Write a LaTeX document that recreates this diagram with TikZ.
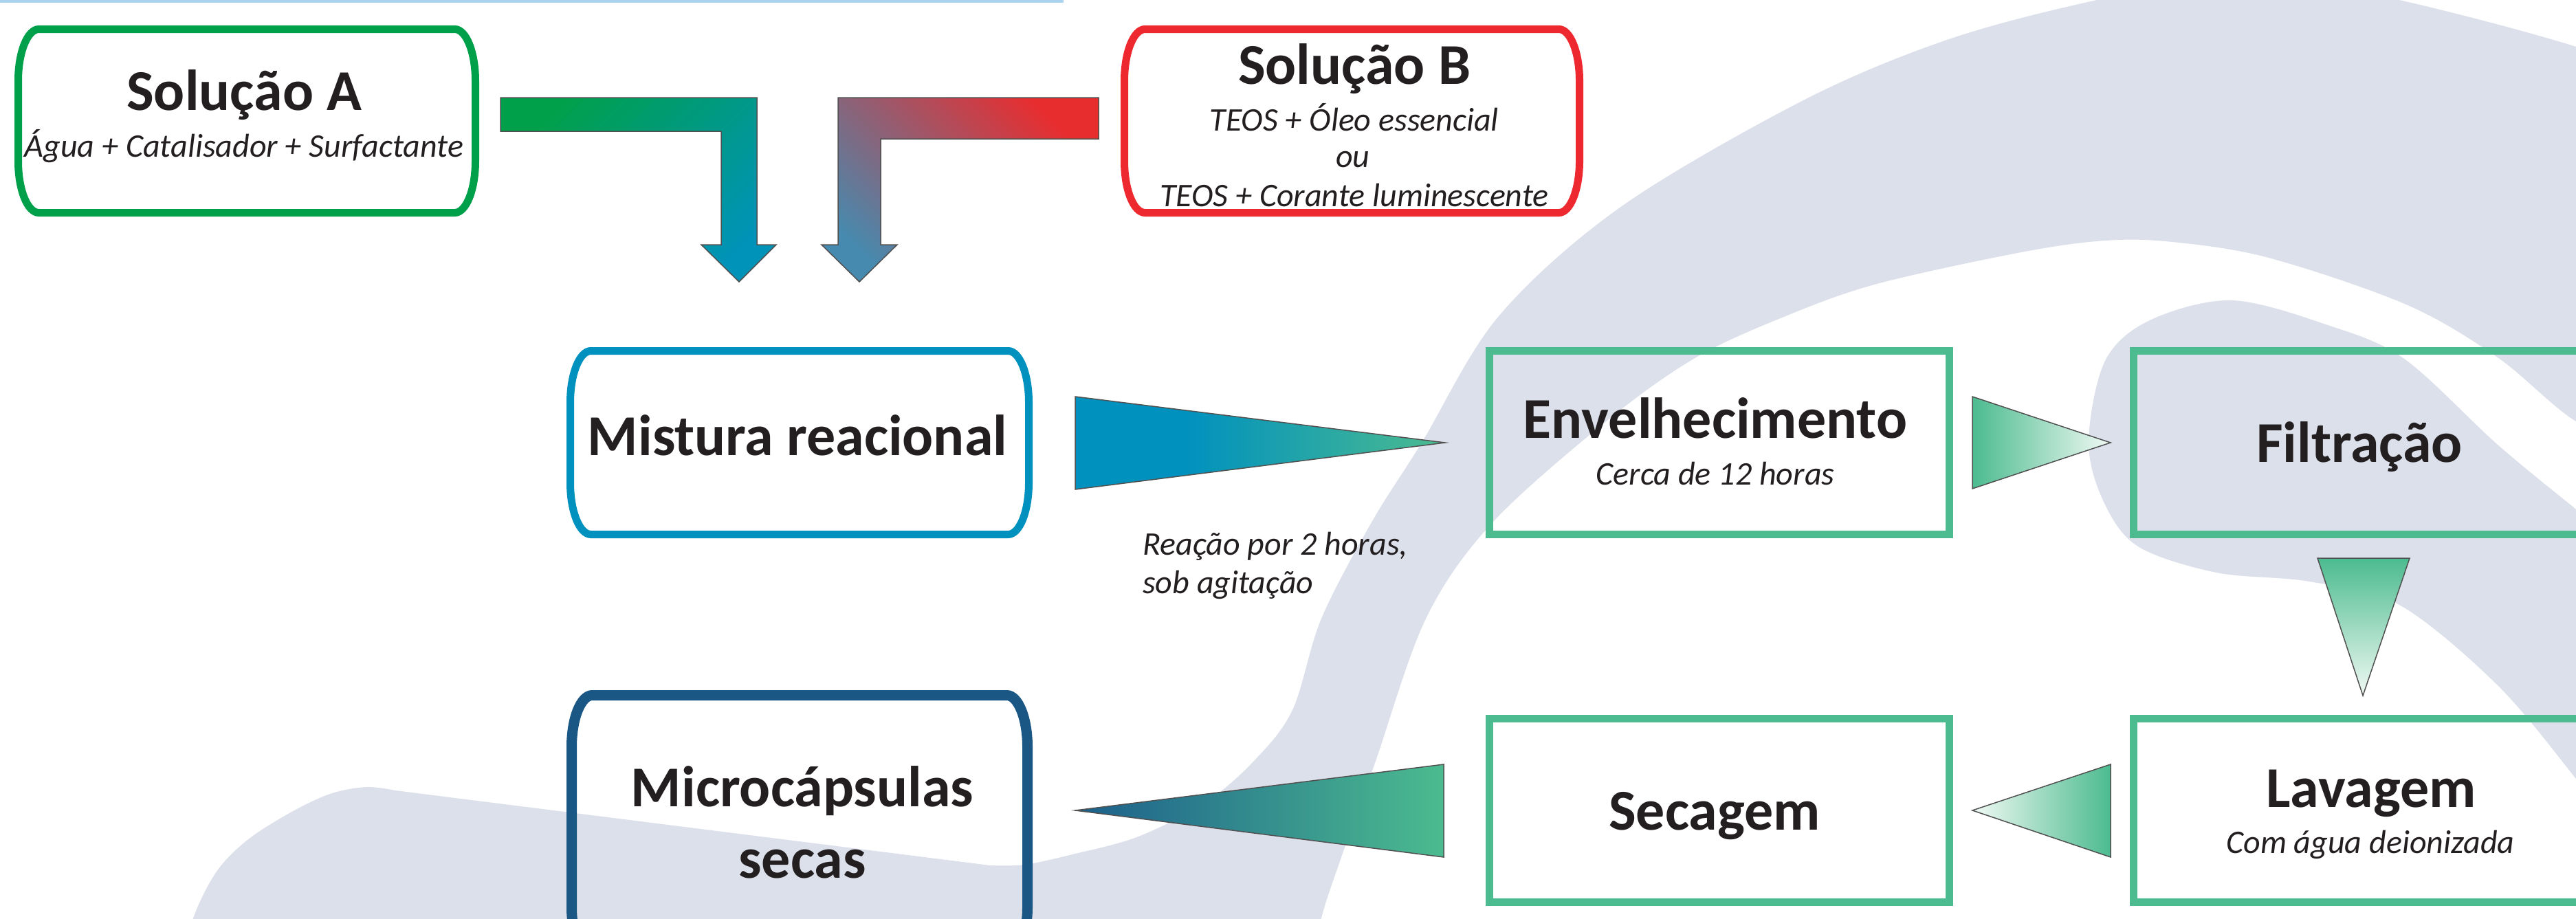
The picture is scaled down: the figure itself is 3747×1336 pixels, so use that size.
\documentclass[tikz,border=0pt]{standalone}
\usepackage{fontspec}
\setmainfont{Carlito}
\usetikzlibrary{calc}
\definecolor{bggray}{RGB}{220,224,235}
\definecolor{txt}{RGB}{35,31,32}
\definecolor{cA}{RGB}{0,160,75}
\definecolor{cB}{RGB}{237,41,47}
\definecolor{cM}{RGB}{0,145,190}
\definecolor{cD}{RGB}{26,87,132}
\definecolor{cDt}{RGB}{28,95,140}
\definecolor{cG}{RGB}{76,187,143}
\definecolor{cPale}{RGB}{240,249,244}
\definecolor{cTeal}{RGB}{0,147,185}
\definecolor{cRed}{RGB}{232,45,47}
\definecolor{cBG}{RGB}{70,138,175}
\definecolor{cLine}{RGB}{169,211,239}
\definecolor{edge}{RGB}{80,80,80}
\pgfdeclarehorizontalshading{btog}{100bp}{color(0bp)=(cM); color(40bp)=(cM); color(75bp)=(cG); color(100bp)=(cG)}
\newcommand\rndbox[5]{%
 \draw[draw=#2, line width=#3pt]
  ($(#1.north west)+(#4,0)$) -- ($(#1.north east)+(-#4,0)$)
  arc[start angle=-90, end angle=0, x radius=#4, y radius=#5]
  -- ($(#1.south east)+(0,-#5)$)
  arc[start angle=0, end angle=90, x radius=#4, y radius=#5]
  -- ($(#1.south west)+(#4,0)$)
  arc[start angle=90, end angle=180, x radius=#4, y radius=#5]
  -- ($(#1.north west)+(0,#5)$)
  arc[start angle=180, end angle=270, x radius=#4, y radius=#5]
  -- cycle;}
\begin{document}
\begin{tikzpicture}[x=1pt,y=-1pt,
  title/.style={font=\fontsize{84}{100}\selectfont\bfseries, text=txt, anchor=base, inner sep=0pt},
  sub/.style={font=\fontsize{48}{58}\selectfont\itshape, text=txt, anchor=base, inner sep=0pt},
  slot/.style={rectangle, inner sep=0pt, outer sep=0pt, draw=none},
  sqbox/.style={rectangle, inner sep=0pt, outer sep=0pt, draw=cG, line width=11pt, minimum width=669pt, minimum height=267pt},
  tri/.style={draw=edge, line width=1.5pt},
  larrow/.style={draw=edge, line width=1.5pt}]
\useasboundingbox (0,0) rectangle (3747,1336);
\clip (0,0) rectangle (3747,1336);
\fill[white] (0,0) rectangle (3747,1336);
% background swoosh
\fill[bggray] plot[smooth, tension=0.55] coordinates {(270,1400) (281,1336) (315,1268) (360,1222) (421,1183) (480,1155) (533,1145) (575,1150)}
  -- (1400,1254)
  -- plot[smooth, tension=0.55] coordinates {(1440,1259) (1490,1258) (1560,1243) (1656,1217) (1754,1167) (1824,1107) (1880,1033) (1922,900) (1995,760) (2068,644) (2180,460) (2359,300) (2625,145) (2835,57) (3050,0) (3270,-40) (3490,0) (3747,68) (3900,130)}
  -- (3900,660)
  -- plot[smooth, tension=0.55] coordinates {(3850,650) (3747,613) (3633,520) (3500,443) (3300,375) (3160,352) (3062,350) (2940,367) (2730,413) (2597,460) (2467,520) (2340,610) (2171,760) (2074,900) (2000,1110) (1950,1250) (1922,1336) (1915,1400)}
  -- cycle;
\fill[bggray] plot[smooth, tension=0.55] coordinates {(3820,800) (3747,741) (3633,647) (3497,522) (3386,473) (3246,437) (3127,466) (3062,525) (3038,643) (3060,730) (3110,795) (3224,833) (3359,846) (3490,880) (3633,997) (3747,1133) (3820,1230)} -- cycle;
\draw[cLine, line width=4pt] (0,2) -- (1547,2);
% box slots
\node[slot, minimum width=665pt, minimum height=267pt] (A) at (359,176) {};
\node[slot, minimum width=662pt, minimum height=267pt] (B) at (1966.5,176) {};
\node[slot, minimum width=667pt, minimum height=267pt] (M) at (1163,644) {};
\node[slot, minimum width=663pt, minimum height=383pt] (C) at (1163,1203) {};
\rndbox{A}{cA}{11}{30}{75}
\rndbox{B}{cB}{11}{30}{75}
\rndbox{M}{cM}{11}{30}{75}
\rndbox{C}{cD}{15}{30}{75}
\node[sqbox] (E) at (2501,644) {};
\node[sqbox] (F) at (3438,644) {};
\node[sqbox] (S) at (2501,1179) {};
\node[sqbox] (L) at (3438,1179) {};
% L-shaped arrows
\coordinate (gaS) at ($(A.east)+(36.5,-34)$);
\coordinate (gaT) at ($(M.north)+(-88,-100.5)$);
\path[larrow, top color=cA, bottom color=cTeal, shading angle=45]
  (gaS) -- ++(373,0) -- ++(0,214) -- ++(28,0) -- (gaT) -- ++(-55,-54) -- ++(29,0) -- ++(0,-165) -- ++(-321,0) -- cycle;
\coordinate (rbS) at ($(B.west)+(-37.5,-34)$);
\coordinate (rbT) at ($(M.north)+(87,-100.5)$);
\path[larrow, top color=cRed, bottom color=cBG, shading angle=-45]
  (rbS) -- ++(-379,0) -- ++(0,214) -- ++(-24,0) -- (rbT) -- ++(55,-54) -- ++(-24,0) -- ++(0,-154) -- ++(317,0) -- cycle;
% triangles
\path[tri, shading=btog] ($(M.east)+(67.5,-67)$) -- ($(M.east)+(67.5,68)$) -- ($(E.west)+(-64.5,0)$) -- cycle;
\path[tri, left color=cG, right color=cPale] ($(E.east)+(33.5,-67)$) -- ($(E.east)+(33.5,67)$) -- ($(F.west)+(-33.5,0)$) -- cycle;
\path[tri, top color=cG, bottom color=cPale] ($(F.south)+(-67,34.5)$) -- ($(F.south)+(67,34.5)$) -- ($(L.north)+(-1,-33.5)$) -- cycle;
\path[tri, left color=cPale, right color=cG] ($(S.east)+(33.5,0)$) -- ($(L.west)+(-33.5,-67)$) -- ($(L.west)+(-33.5,68)$) -- cycle;
\path[tri, left color=cDt, right color=cG] ($(C.east|-S.west)+(69.5,0)$) -- ($(S.west)+(-66.5,-67)$) -- ($(S.west)+(-66.5,68)$) -- cycle;
% texts
\node[title] (tA1) at (355,160) {Solução A};
\node[sub] (tA2) at (355,228) {Água + Catalisador + Surfactante};
\node[title] (tB1) at (1970,122) {Solução B};
\node[sub] (tB2) at (1970,190) {TEOS + Óleo essencial};
\node[sub] (tB3) at (1968,243) {ou};
\node[sub] (tB4) at (1970,300) {TEOS + Corante luminescente};
\node[title] (tM) at (1160,662) {Mistura reacional};
\node[sub, anchor=base west] (tR1) at (1662,807) {Reação por 2 horas,};
\node[sub, anchor=base west] (tR2) at (1662,863) {sob agitação};
\node[title] (tE1) at (2495,637) {Envelhecimento};
\node[sub] (tE2) at (2495,705) {Cerca de 12 horas};
\node[title] (tF) at (3432,672) {Filtração};
\node[title] (tS) at (2494,1207) {Secagem};
\node[title] (tL1) at (3449,1174) {Lavagem};
\node[sub] (tL2) at (3448,1241) {Com água deionizada};
\node[title] (tC1) at (1167,1173) {Microcápsulas};
\node[title] (tC2) at (1167,1277) {secas};
\end{tikzpicture}
\end{document}
